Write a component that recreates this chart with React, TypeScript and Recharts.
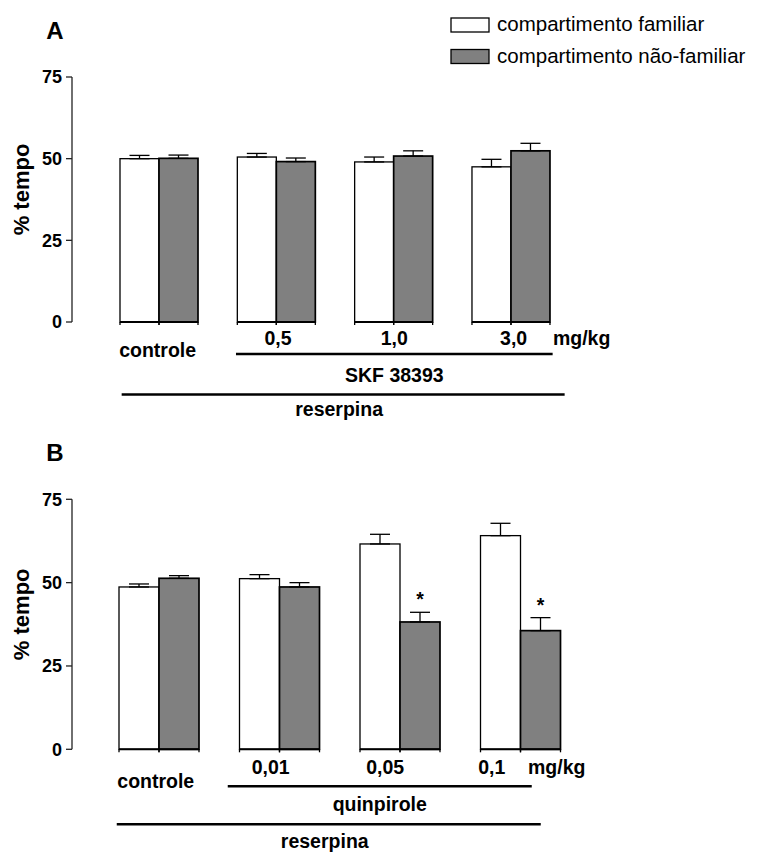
import React from 'react';
import { BarChart, Bar, XAxis, YAxis, ErrorBar } from 'recharts';

const FONT = '"Liberation Sans", Arial, Helvetica, sans-serif';

// painel A - SKF 38393
const dosesA = ['controle', '0,5', '1,0', '3,0'];
const familiarA = [50.0, 50.5, 49.0, 47.5];
const familiarErrA = [1.0, 1.1, 1.5, 2.3];
const naoFamiliarA = [50.1, 49.1, 50.8, 52.4];
const naoFamiliarErrA = [1.0, 1.1, 1.6, 2.3];
const significantA = [false, false, false, false];

// painel B - quinpirole
const dosesB = ['controle', '0,01', '0,05', '0,1'];
const familiarB = [48.7, 51.2, 61.6, 64.1];
const familiarErrB = [0.9, 1.2, 2.9, 3.7];
const naoFamiliarB = [51.3, 48.7, 38.2, 35.6];
const naoFamiliarErrB = [0.8, 1.3, 2.9, 3.9];
const significantB = [false, false, true, true];

const yTicks = [0, 25, 50, 75];
const yMax = 75;
const seriesNames = ['compartimento familiar', 'compartimento não-familiar'];
const seriesColors = ['#ffffff', '#808080'];

function buildRows(doses, fam, famErr, nao, naoErr, sig) {
  return doses.map((dose, i) => ({
    dose,
    fam: fam[i],
    famErr: [0, famErr[i]],
    nao: nao[i],
    naoErr: [0, naoErr[i]],
    sig: sig[i],
  }));
}

const rowsA = buildRows(dosesA, familiarA, familiarErrA, naoFamiliarA, naoFamiliarErrA, significantA);
const rowsB = buildRows(dosesB, familiarB, familiarErrB, naoFamiliarB, naoFamiliarErrB, significantB);

// layout of each panel (pixels)
const panelA = {
  letter: 'A',
  letterY: 39,
  top: 0,
  height: 430,
  marginTop: 77,
  marginRight: 196.7,
  padLeft: 28,
  barSize: 39,
  xAxisHeight: 108,
  group: 'SKF 38393',
  controlDx: -1,
  controlY: 35,
  doseDx: [0, 2, 1, 3],
  doseY: 23,
  unitDx: 71,
  groupLine: [-40, 42],
  groupLineY: 32,
  groupTextY: 60,
  outerLine: [-37, 54],
  outerLineY: 72.5,
  outerTextY: 94,
};

const panelB = {
  letter: 'B',
  letterY: 31,
  top: 430,
  height: 424,
  marginTop: 69.3,
  marginRight: 185,
  padLeft: 27,
  barSize: 40,
  xAxisHeight: 104.7,
  group: 'quinpirole',
  controlDx: -3.5,
  controlY: 39,
  doseDx: [0, -9, -15, -29],
  doseY: 25,
  unitDx: 36,
  groupLine: [-52, 11],
  groupLineY: 37,
  groupTextY: 62,
  outerLine: [-42.5, 20],
  outerLineY: 75,
  outerTextY: 99,
};

const labelStyle = { fontFamily: FONT, fontWeight: 700, fontSize: 19.5, fill: '#000' };

function XTick({ x, y, payload, index, cfg, step, n }) {
  const isLast = index === n - 1;
  const firstX = x - (n - 1) * step;
  const firstDoseX = x - (n - 2) * step;
  const gx1 = firstDoseX + cfg.groupLine[0];
  const gx2 = x + cfg.groupLine[1];
  const ox1 = firstX + cfg.outerLine[0];
  const ox2 = x + cfg.outerLine[1];
  return (
    <g>
      {index === 0 ? (
        <text x={x + cfg.controlDx} y={y + cfg.controlY} textAnchor="middle" {...labelStyle}>
          {payload.value}
        </text>
      ) : (
        <text x={x + cfg.doseDx[index]} y={y + cfg.doseY} textAnchor="middle" {...labelStyle}>
          {payload.value}
        </text>
      )}
      {isLast && (
        <g>
          <text x={x + cfg.unitDx} y={y + cfg.doseY} textAnchor="middle" {...labelStyle}>
            mg/kg
          </text>
          <line x1={gx1} x2={gx2} y1={y + cfg.groupLineY} y2={y + cfg.groupLineY} stroke="#000" strokeWidth={2.5} />
          <text x={(gx1 + gx2) / 2} y={y + cfg.groupTextY} textAnchor="middle" {...labelStyle}>
            {cfg.group}
          </text>
          <line x1={ox1} x2={ox2} y1={y + cfg.outerLineY} y2={y + cfg.outerLineY} stroke="#000" strokeWidth={2.5} />
          <text x={(ox1 + ox2) / 2 - 4} y={y + cfg.outerTextY} textAnchor="middle" {...labelStyle}>
            reserpina
          </text>
        </g>
      )}
    </g>
  );
}

function makeBarShape(strokeWidth, errKey) {
  return (props) => {
    const { x, y, width, height, fill, payload, background } = props;
    const bottom = y + height;
    let star = null;
    if (errKey && payload && payload.sig) {
      const pxPerUnit = background && background.height ? background.height / yMax : 3.33;
      const errTop = y - payload[errKey][1] * pxPerUnit;
      star = (
        <text x={x + width / 2} y={errTop - 6} textAnchor="middle" {...labelStyle}>
          *
        </text>
      );
    }
    return (
      <g>
        <rect x={x} y={y} width={width} height={height} fill={fill} stroke="#000" strokeWidth={strokeWidth} />
        <line x1={x} x2={x + width} y1={bottom} y2={bottom} stroke="#000" strokeWidth={2} />
        <line x1={x} x2={x} y1={bottom} y2={bottom + 3} stroke="#000" strokeWidth={1.3} />
        <line x1={x + width} x2={x + width} y1={bottom} y2={bottom + 3} stroke="#000" strokeWidth={1.3} />
        {star}
      </g>
    );
  };
}

const whiteShape = makeBarShape(1.3, null);
const greyShape = makeBarShape(1.7, 'naoErr');

function Panel({ rows, cfg, children }) {
  const width = 766;
  const yAxisWidth = 72;
  const n = rows.length;
  const step = (width - yAxisWidth - cfg.marginRight - cfg.padLeft) / n;
  return (
    <div style={{ position: 'absolute', left: 0, top: cfg.top, width, height: cfg.height }}>
      <BarChart
        width={width}
        height={cfg.height}
        data={rows}
        margin={{ top: cfg.marginTop, right: cfg.marginRight, bottom: 0, left: 0 }}
        barGap={0}
        barSize={cfg.barSize}
        style={{ fontFamily: FONT }}
      >
        <XAxis
          dataKey="dose"
          axisLine={false}
          tickLine={false}
          tickSize={0}
          tickMargin={0}
          height={cfg.xAxisHeight}
          padding={{ left: cfg.padLeft, right: 0 }}
          interval={0}
          tick={(p) => <XTick {...p} cfg={cfg} step={step} n={n} />}
        />
        <YAxis
          domain={[0, yMax]}
          ticks={yTicks}
          interval={0}
          width={yAxisWidth}
          tickSize={6}
          tickMargin={4}
          axisLine={{ stroke: '#222', strokeWidth: 1.3 }}
          tickLine={{ stroke: '#222', strokeWidth: 1.3 }}
          tick={{ fill: '#000', fontSize: 18, fontWeight: 700, fontFamily: FONT }}
          label={{
            value: '% tempo',
            angle: -90,
            position: 'center',
            dx: -15,
            dy: -10,
            fill: '#000',
            fontSize: 22,
            fontWeight: 700,
            fontFamily: FONT,
          }}
        />
        <Bar dataKey="fam" name={seriesNames[0]} fill={seriesColors[0]} shape={whiteShape} isAnimationActive={false}>
          <ErrorBar dataKey="famErr" direction="y" width={10} stroke="#000" strokeWidth={1.3} />
        </Bar>
        <Bar dataKey="nao" name={seriesNames[1]} fill={seriesColors[1]} shape={greyShape} isAnimationActive={false}>
          <ErrorBar dataKey="naoErr" direction="y" width={10} stroke="#000" strokeWidth={1.3} />
        </Bar>
      </BarChart>
      <svg
        width={width}
        height={cfg.height}
        style={{ position: 'absolute', left: 0, top: 0, pointerEvents: 'none' }}
      >
        <text x={55} y={cfg.letterY} textAnchor="middle" fontFamily={FONT} fontWeight={700} fontSize={24} fill="#000">
          {cfg.letter}
        </text>
        {children}
      </svg>
    </div>
  );
}

function LegendBlock() {
  return (
    <g>
      {seriesNames.map((name, i) => (
        <g key={name}>
          <rect x={451} y={18 + i * 31.5} width={38} height={14} fill={seriesColors[i]} stroke="#000" strokeWidth={1.3} />
          <text x={497} y={31 + i * 31.5} fontFamily={FONT} fontSize={20.5} fill="#000">
            {name}
          </text>
        </g>
      ))}
    </g>
  );
}

export default function App() {
  return (
    <div style={{ position: 'absolute', left: 0, top: 0, width: 766, height: 854, background: '#fff', fontFamily: FONT }}>
      <Panel rows={rowsA} cfg={panelA}>
        <LegendBlock />
      </Panel>
      <Panel rows={rowsB} cfg={panelB} />
    </div>
  );
}
